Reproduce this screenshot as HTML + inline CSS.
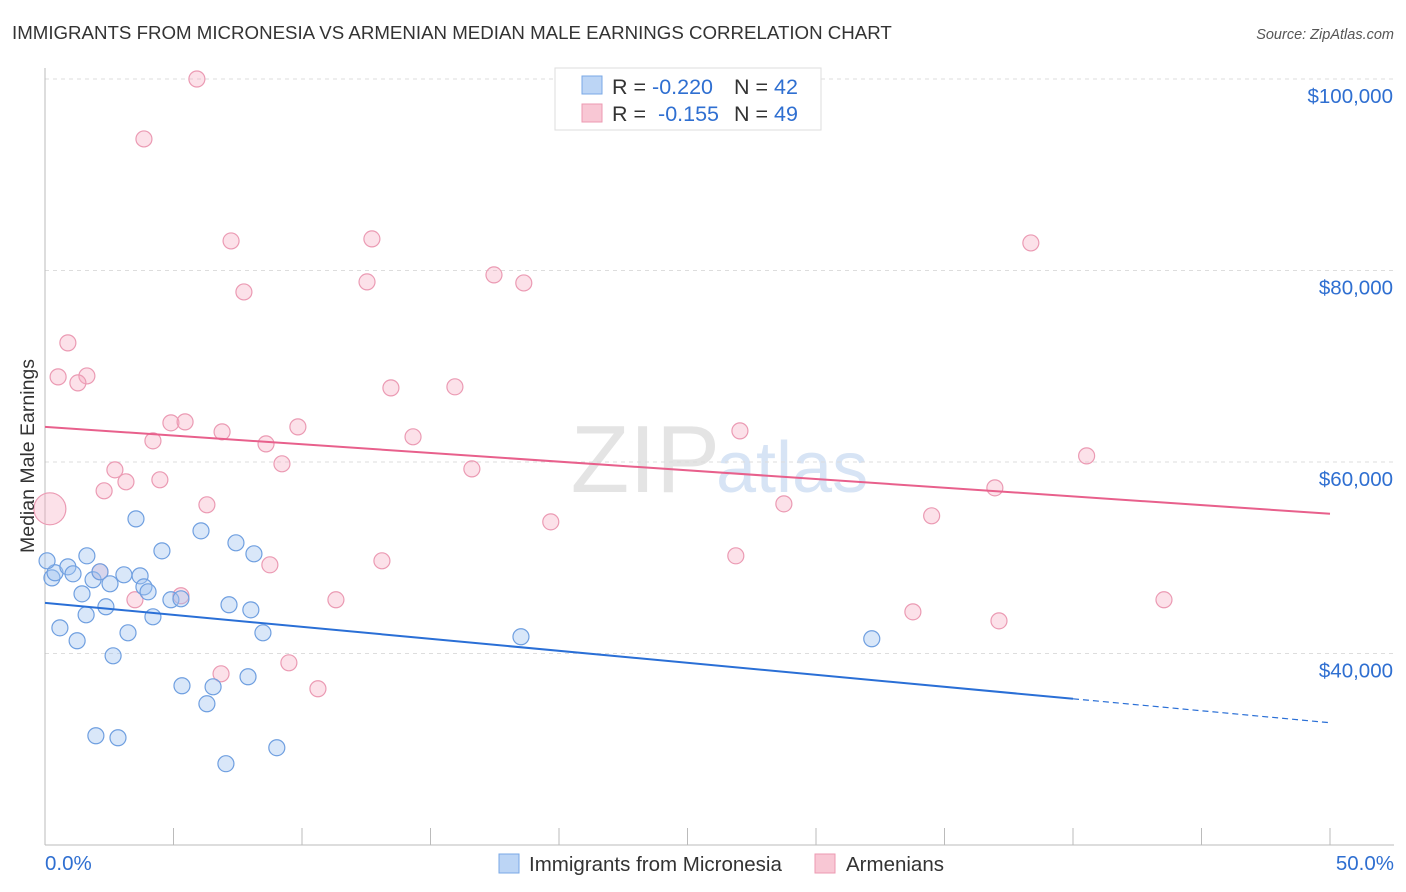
<!DOCTYPE html>
<html><head><meta charset="utf-8">
<style>
body{margin:0;background:#fff;font-family:"Liberation Sans",sans-serif;}
#wrap{position:relative;width:1406px;height:892px;overflow:hidden;}
svg text{font-family:"Liberation Sans",sans-serif;}
</style></head>
<body>
<div id="wrap">
<svg id="chart" width="1406" height="892">
<text x="12" y="39" font-size="18.7" fill="#333">IMMIGRANTS FROM MICRONESIA VS ARMENIAN MEDIAN MALE EARNINGS CORRELATION CHART</text>
<text x="1394" y="39" font-size="14.5" fill="#555" font-style="italic" text-anchor="end">Source: ZipAtlas.com</text>
<text x="720" y="492" font-size="96" fill="#e4e4e4" text-anchor="end" font-family="Liberation Serif">ZIP</text>
<text x="716" y="492" font-size="72" fill="#d7e4f5">atlas</text>
<g id="grid"></g><g id="marks"></g>
<text x="34" y="456" font-size="19.5" fill="#333" text-anchor="middle" transform="rotate(-90 34 456)">Median Male Earnings</text>
<g>
<rect x="555" y="68" width="266" height="62" fill="#fff" stroke="#ddd"/>
<rect x="582" y="76" width="20" height="18" fill="#bcd5f5" stroke="#7aa8e6"/>
<rect x="582" y="104" width="20" height="18" fill="#f8c7d4" stroke="#ec9ab2"/>
<text x="612" y="94" font-size="21.5" fill="#333">R = <tspan fill="#2f6fd1">-0.220</tspan></text>
<text x="734" y="94" font-size="21.5" fill="#333">N = <tspan fill="#2f6fd1">42</tspan></text>
<text x="612" y="121" font-size="21.5" fill="#333">R = <tspan fill="#2f6fd1" dx="6">-0.155</tspan></text>
<text x="734" y="121" font-size="21.5" fill="#333">N = <tspan fill="#2f6fd1">49</tspan></text>
</g>
<g>
<rect x="499" y="854" width="20" height="19" fill="#bcd5f5" stroke="#7aa8e6"/>
<text x="529" y="871" font-size="20.5" fill="#333">Immigrants from Micronesia</text>
<rect x="815" y="854" width="20" height="19" fill="#f8c7d4" stroke="#ec9ab2"/>
<text x="846" y="871" font-size="20.5" fill="#333">Armenians</text>
</g>
</svg>
</div>
<script>
const yTicks=[40000,60000,80000,100000];
const yTickLabels=["$40,000","$60,000","$80,000","$100,000"];
const xEndLabels=["0.0%","50.0%"];
const blueX=[0.27,0.39,0.89,1.09,1.63,0.58,1.25,1.44,1.60,1.87,2.14,2.37,2.53,2.65,3.07,3.23,3.54,3.70,3.85,4.01,4.20,4.55,4.90,5.29,5.33,6.07,6.30,6.54,7.04,7.16,7.43,7.90,8.01,8.13,8.48,9.02,1.98,2.84,18.52,32.17,0.08];
const blueY=[47900,48430,49050,48320,50200,42680,41330,46230,44040,47700,48530,44880,47280,39760,48220,42160,54060,48110,46960,46440,43830,50720,45610,45710,36630,52810,34750,36520,28490,45090,51560,37570,44560,50410,42160,30160,31410,31200,41750,41540,49680];
const pinkX=[5.91,3.85,7.24,12.72,38.36,7.74,12.53,17.47,18.63,0.89,0.51,1.63,1.28,13.46,15.95,4.90,5.45,9.84,6.89,14.32,27.04,4.20,8.60,9.22,16.61,40.53,2.72,3.15,4.47,2.30,6.30,28.75,36.96,19.68,34.50,0.19,26.88,13.11,8.75,2.14,5.29,3.50,11.32,33.77,37.12,43.54,6.85,9.49,10.62];
const pinkY=[100000,93740,83090,83300,82880,77760,78810,79540,78700,72440,68890,68990,68260,67740,67850,64090,64190,63670,63150,62630,63250,62210,61890,59810,59280,60640,59180,57930,58140,56990,55530,55630,57300,53750,54380,55110,50200,49680,49260,48530,46030,45610,45610,44350,43410,45610,37880,39030,36320];
const pinkR=[8,8,8,8,8,8,8,8,8,8,8,8,8,8,8,8,8,8,8,8,8,8,8,8,8,8,8,8,8,8,8,8,8,8,8,16,8,8,8,8,8,8,8,8,8,8,8,8,8];
const blueTrend=[45290,35270,32770];
const pinkTrend=[63670,54590];
const NS='http://www.w3.org/2000/svg';
const xs=v=>45+v/50*1285;
const ys=v=>79+(100000-v)/20000*191.5;
function mk(tag,attrs,parent){const e=document.createElementNS(NS,tag);for(const k in attrs)e.setAttribute(k,attrs[k]);parent.appendChild(e);return e;}
const grid=document.getElementById('grid'),marks=document.getElementById('marks');
yTicks.forEach((t,i)=>{
 const l=mk('line',{x1:45,x2:1394,y1:ys(t),y2:ys(t),stroke:'#ddd','stroke-dasharray':'4,4'},grid);
 
 
 const tx=mk('text',{x:1393,y:ys(t)+24,'font-size':20.5,fill:'#2f6fd1','text-anchor':'end'},grid);
 tx.textContent=yTickLabels[i];
 
 
});
const ax=mk('line',{x1:45,x2:45,y1:68,y2:845,stroke:'#bbb'},grid);


const bx=mk('line',{x1:45,x2:1394,y1:845,y2:845,stroke:'#bbb'},grid);


for(let i=0;i<=10;i++){
 const t=mk('line',{x1:xs(i*5),x2:xs(i*5),y1:828,y2:845,stroke:'#bbb'},grid);
 
 
}
const xl0=mk('text',{x:45,y:870,'font-size':20.5,fill:'#2f6fd1'},grid);xl0.textContent=xEndLabels[0];


const xl1=mk('text',{x:1394,y:870,'font-size':20.5,fill:'#2f6fd1','text-anchor':'end'},grid);xl1.textContent=xEndLabels[1];


pinkX.forEach((x,i)=>{
 const c=mk('circle',{cx:xs(x),cy:ys(pinkY[i]),r:pinkR[i],fill:'rgba(245,170,192,0.35)',stroke:'#eb9ab3','stroke-width':1.2},marks);
 
 
});
blueX.forEach((x,i)=>{
 const c=mk('circle',{cx:xs(x),cy:ys(blueY[i]),r:8,fill:'rgba(160,195,240,0.4)',stroke:'#6f9fe0','stroke-width':1.2},marks);
 
 
});
const bl=mk('line',{x1:xs(0),y1:ys(blueTrend[0]),x2:xs(40),y2:ys(blueTrend[1]),stroke:'#2a6fd6','stroke-width':2},marks);


const bd=mk('line',{x1:xs(40),y1:ys(blueTrend[1]),x2:xs(50),y2:ys(blueTrend[2]),stroke:'#2a6fd6','stroke-width':1.2,'stroke-dasharray':'6,4'},marks);


const pl=mk('line',{x1:xs(0),y1:ys(pinkTrend[0]),x2:xs(50),y2:ys(pinkTrend[1]),stroke:'#e8608c','stroke-width':2},marks);


</script>
</body></html>
